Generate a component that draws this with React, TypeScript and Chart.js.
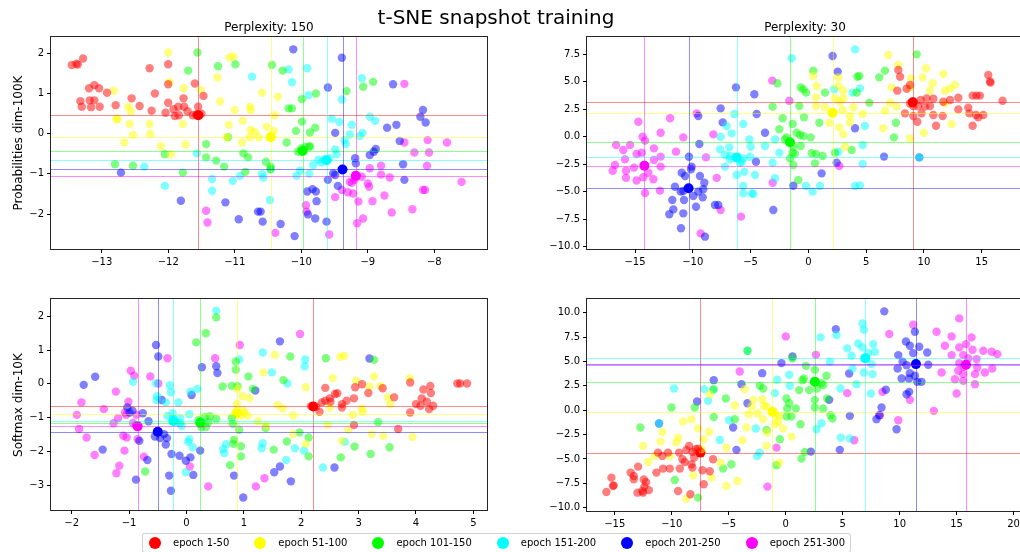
import React, { useEffect, useRef } from "react";
import { Chart, registerables } from "chart.js";

Chart.register(...registerables);

type Pt = [number, number];

// ---------- categories / legend ----------
const epochLabels = ["epoch 1-50", "epoch 51-100", "epoch 101-150", "epoch 151-200", "epoch 201-250", "epoch 251-300"];
const epochColors = ["255,0,0", "255,255,0", "0,255,0", "0,255,255", "0,0,255", "255,0,255"];

// ---------- Perplexity 150, Probabilities dim-100K ----------
const p150probRed: Pt[] = [[-13.45,1.71],[-13.38,1.74],[-13.36,1.72],[-13.28,1.87],[-13.19,1.13],[-13.11,1.21],[-13.04,1.13],[-12.92,1.02],[-13.32,0.81],[-13.18,0.83],[-13.11,0.83],[-13.3,0.67],[-13.16,0.66],[-13.03,0.67],[-12.79,0.71],[-12.55,0.88],[-12.43,0.69],[-12.28,1.63],[-12.2,1.0],[-12.25,0.57],[-12.04,0.52],[-12.0,1.23],[-12.0,1.73],[-12.0,0.77],[-11.92,0.61],[-11.9,0.44],[-11.84,0.46],[-11.77,0.88],[-11.76,0.67],[-11.85,0.67],[-11.71,0.56],[-11.6,1.25],[-11.47,0.94],[-11.55,0.67],[-11.63,0.46],[-11.53,0.46],[-11.5,0.5],[-11.58,0.48]];
const p150probYellow: Pt[] = [[-12.0,2.02],[-11.98,1.29],[-12.82,1.07],[-12.78,0.36],[-12.76,0.37],[-12.6,0.67],[-12.56,0.55],[-12.58,0.24],[-12.53,-0.03],[-12.66,-0.22],[-12.28,0.24],[-12.27,0.0],[-12.11,-0.31],[-11.96,-0.51],[-11.77,1.13],[-11.78,0.24],[-11.74,-0.27],[-11.51,1.09],[-11.26,1.4],[-11.22,0.8],[-11.08,1.9],[-11.02,1.92],[-11.0,0.59],[-11.09,0.22],[-11.12,-0.09],[-10.88,0.32],[-10.89,-0.22],[-10.77,0.67],[-10.76,0.59],[-10.76,0.09],[-10.7,0.05],[-10.77,-0.09],[-10.64,-0.09],[-10.59,1.02],[-10.52,0.17],[-10.41,0.07],[-10.46,-0.05],[-10.35,0.92],[-10.4,0.46]];
const p150probGreen: Pt[] = [[-11.56,2.02],[-11.7,1.57],[-11.25,1.68],[-10.99,1.73],[-10.44,1.71],[-10.28,1.57],[-10.19,0.63],[-10.14,0.63],[-9.99,0.86],[-9.78,1.0],[-9.32,1.06],[-9.07,1.17],[-8.92,1.29],[-9.99,0.3],[-9.79,0.15],[-9.87,0.03],[-10.08,0.07],[-10.22,-0.22],[-10.05,-0.45],[-10.0,-0.37],[-9.94,-0.33],[-9.88,-0.33],[-9.87,-0.31],[-11.1,-0.09],[-11.43,-0.26],[-11.43,-0.59],[-11.28,-0.67],[-11.16,-0.82],[-10.87,-0.49],[-10.8,-0.59],[-10.84,-0.95],[-10.53,-0.7],[-10.46,-0.82],[-10.46,-0.88],[-11.78,-0.97],[-12.05,-0.51],[-12.8,-0.76],[-12.53,-0.8]];
const p150probCyan: Pt[] = [[-12.36,-0.82],[-12.05,-1.3],[-11.57,-0.49],[-11.34,-1.13],[-11.34,-1.42],[-11.03,-1.17],[-10.92,-1.05],[-10.74,1.42],[-10.59,-1.01],[-10.57,-1.09],[-10.47,-1.65],[-10.46,-0.89],[-10.19,1.6],[-10.14,1.28],[-9.91,1.63],[-9.89,0.96],[-10.07,-1.05],[-10.02,-0.92],[-9.88,-1.0],[-9.82,-0.78],[-9.74,-0.65],[-9.7,-0.72],[-9.65,-0.64],[-9.58,-0.61],[-9.54,0.37],[-9.49,-0.39],[-9.47,-0.51],[-9.43,0.29],[-9.39,0.85],[-9.27,-0.02],[-9.24,0.22],[-9.35,-0.16],[-9.33,-0.26],[-9.12,-0.06],[-9.08,0.02],[-9.09,1.38],[-8.97,0.42],[-8.89,0.32]];
const p150probBlue: Pt[] = [[-10.12,2.1],[-9.39,1.89],[-9.6,1.15],[-8.62,1.23],[-8.17,0.59],[-8.21,0.42],[-8.13,0.28],[-8.71,0.15],[-8.57,0.22],[-9.49,0.02],[-8.52,-0.18],[-8.97,-0.53],[-8.91,-0.45],[-8.88,-0.38],[-8.47,-0.76],[-8.45,-1.15],[-9.19,-0.61],[-9.18,-0.74],[-9.52,-0.99],[-9.49,-1.03],[-9.6,-1.15],[-9.45,-1.3],[-9.91,-1.44],[-9.83,-1.38],[-9.78,-1.44],[-9.77,-1.68],[-9.9,-2.01],[-9.79,-2.11],[-9.62,-2.19],[-10.1,-2.55],[-10.31,-2.25],[-10.58,-2.19],[-10.65,-1.94],[-10.61,-1.94],[-10.94,-2.13],[-11.14,-1.71],[-11.81,-1.67],[-12.71,-0.97]];
const p150probMagenta: Pt[] = [[-8.45,1.24],[-8.1,-0.16],[-7.81,-0.22],[-8.45,-0.22],[-8.3,-0.47],[-8.08,-0.47],[-8.11,-0.8],[-7.59,-1.2],[-8.17,-1.4],[-8.14,-1.4],[-8.33,-1.88],[-8.64,-1.96],[-8.75,-1.54],[-8.67,-1.09],[-8.8,-1.02],[-8.8,-0.8],[-8.97,-0.86],[-9.0,-1.24],[-8.98,-1.32],[-8.93,-1.68],[-9.14,-1.69],[-9.07,-2.11],[-9.16,-2.23],[-9.09,-1.07],[-9.27,-1.2],[-9.24,-1.22],[-9.2,-1.15],[-9.3,-1.46],[-9.22,-1.49],[-9.39,-1.4],[-9.49,-1.58],[-9.93,-1.78],[-9.92,-1.94],[-9.58,-2.51],[-10.39,-2.47],[-11.43,-1.92],[-11.41,-2.21]];
const p150probCenters: Pt[] = [[-11.55,0.46],[-10.46,-0.09],[-9.98,-0.43],[-9.62,-0.66],[-9.38,-0.89],[-9.18,-1.05]];

// ---------- Perplexity 30, Probabilities dim-100K ----------
const p30probRed: Pt[] = [[7.79,6.05],[7.94,5.44],[7.7,4.17],[8.51,4.35],[8.8,4.68],[8.36,2.11],[9.08,1.87],[9.43,1.35],[9.08,2.78],[9.5,2.75],[9.8,2.11],[9.72,3.32],[10.09,2.72],[10.24,3.47],[10.53,2.78],[10.82,3.44],[11.05,0.99],[10.82,1.96],[11.68,3.17],[11.62,1.87],[12.26,3.32],[12.98,3.53],[12.98,2.47],[13.84,2.63],[13.93,2.11],[14.22,3.72],[14.56,3.72],[14.85,3.72],[14.22,0.99],[14.71,1.75],[15.14,1.96],[14.51,1.96],[15.57,5.59],[15.77,4.9],[15.72,5.0],[16.81,3.26],[8.8,3.0],[9.1,3.2]];
const p30probYellow: Pt[] = [[6.92,7.41],[7.79,6.5],[10.18,6.2],[11.68,5.68],[9.89,5.38],[10.76,4.84],[8.88,5.29],[7.21,4.47],[8.8,4.47],[10.53,4.17],[11.82,4.17],[12.26,4.38],[12.69,4.68],[11.82,3.02],[12.4,1.14],[7.07,3.08],[7.64,2.72],[6.63,2.35],[6.49,0.75],[8.8,-0.16],[10.0,0.35],[0.43,5.5],[0.72,4.59],[0.66,3.56],[0.66,2.78],[1.44,2.66],[2.02,2.11],[1.82,1.26],[2.59,4.59],[2.59,5.38],[2.31,3.47],[2.74,3.17],[2.97,2.41],[3.03,3.47],[2.68,0.84],[3.03,0.2],[3.17,-0.92],[3.6,1.87],[3.6,1.26],[3.89,2.66],[4.7,2.05],[3.03,4.17]];
const p30probGreen: Pt[] = [[9.37,7.47],[6.63,5.99],[6.14,5.38],[4.41,5.5],[4.24,5.44],[4.18,3.99],[5.28,3.08],[0.43,5.99],[-0.66,4.47],[-0.43,4.29],[-0.2,3.99],[1.44,3.99],[-2.68,4.84],[-3.09,2.72],[-2.22,1.66],[-2.51,0.66],[-1.36,1.14],[-1.01,0.35],[-0.72,0.14],[-2.02,-0.25],[-1.88,-0.07],[-0.78,2.78],[-0.38,1.75],[-0.43,0.05],[0.2,-0.07],[0.95,1.26],[-1.3,-0.92],[-1.36,-1.46],[-1.16,-1.58],[-0.66,-0.86],[-1.59,-1.98],[-1.3,-2.58],[-0.87,-3.94],[0.29,-1.52],[0.66,-1.58],[1.24,-1.76],[0.58,-2.43],[2.31,-1.46],[3.75,-1.22],[7.41,-0.07],[7.58,1.26]];
const p30probCyan: Pt[] = [[4.04,7.92],[-1.44,7.11],[2.25,4.29],[4.47,4.38],[3.83,3.99],[4.9,0.96],[4.7,-0.77],[4.7,-2.49],[2.59,-1.37],[4.04,-4.49],[4.47,-4.43],[0.37,-5.0],[-0.2,-4.49],[1.01,-4.49],[-2.89,-0.25],[-2.51,-1.46],[-3.09,-2.37],[-2.89,-3.79],[-3.75,-0.86],[-4.62,-3.49],[-4.9,-5.16],[-4.76,-5.22],[-5.63,-4.49],[-5.63,-5.16],[-5.54,-3.19],[-5.77,-2.28],[-5.63,-1.98],[-4.99,-0.92],[-5.05,-1.83],[-5.11,-0.25],[-5.63,1.14],[-6.4,2.05],[-6.64,0.29],[-7.07,0.96],[-7.59,-0.01],[-7.64,-1.16],[-7.21,-1.67],[-6.78,-1.76],[-6.84,-0.98],[-7.21,-2.73],[-6.78,-2.07],[-6.2,-3.49],[-5.91,-2.37],[9.6,-1.89]];
const p30probBlue: Pt[] = [[2.1,7.32],[2.54,5.9],[4.04,0.75],[6.55,-1.82],[9.6,-1.89],[2.45,-2.37],[1.15,-3.34],[-1.3,-4.46],[-3.03,-6.67],[-4.53,-2.28],[-3.75,0.35],[-4.47,2.05],[-4.67,3.84],[-6.26,4.47],[-7.59,2.56],[-7.41,1.29],[-9.52,1.87],[-9.43,-0.67],[-10.33,-1.83],[-10.1,-2.73],[-10.15,-2.97],[-10.96,-3.28],[-10.67,-3.58],[-9.38,-3.58],[-9.0,-4.19],[-9.09,-4.79],[-9.52,-5.0],[-11.54,-4.55],[-11.05,-5.0],[-10.82,-4.94],[-10.76,-5.76],[-11.77,-5.76],[-9.95,-5.4],[-9.14,-5.52],[-11.68,-6.61],[-12.03,-7.06],[-10.82,-6.97],[-9.72,-6.37],[-11.02,-8.33],[-8.94,-9.09],[-8.08,-6.21],[-7.79,-6.21]];
const p30probMagenta: Pt[] = [[-14.71,1.35],[-11.97,1.66],[-9.66,2.11],[-14.34,-0.01],[-14.13,-0.37],[-12.78,0.35],[-10.82,-0.07],[-8.22,0.2],[-16.64,-0.77],[-16.01,-1.22],[-15.43,-0.77],[-14.86,-1.58],[-14.42,-1.46],[-15.87,-2.07],[-16.73,-2.58],[-16.93,-3.1],[-15.78,-3.1],[-15.09,-2.82],[-15.78,-3.75],[-14.86,-3.99],[-14.28,-3.69],[-14.13,-5.13],[-13.85,-3.28],[-13.41,-3.88],[-13.36,-2.13],[-13.36,-1.07],[-12.78,-1.82],[-12.78,-2.73],[-12.84,-4.91],[-11.45,-1.37],[-8.86,-1.89],[-7.93,-3.75],[-7.59,-6.67],[-5.83,-7.27],[-9.32,-8.79],[-3.09,-4.19],[-3.12,5.08],[-1.64,3.26],[2.68,-2.67]];
const p30probCenters: Pt[] = [[9.03,3.11],[2.1,2.17],[-1.59,-0.52],[-6.2,-1.89],[-10.36,-4.7],[-14.19,-2.64]];

// ---------- Perplexity 150, Softmax dim-10K ----------
const p150softRed: Pt[] = [[4.72,0.01],[4.77,0.01],[4.89,0.01],[2.42,-0.12],[2.32,-0.83],[2.36,-0.55],[2.42,-0.5],[2.5,-0.43],[2.51,-0.53],[2.59,-0.3],[2.63,-0.28],[2.71,-0.6],[2.71,-0.7],[2.79,-0.5],[2.92,-0.43],[2.94,-0.1],[3.06,-0.01],[3.17,-0.27],[3.42,-0.13],[3.62,-0.4],[2.92,-1.22],[3.69,-1.34],[3.9,0.04],[3.9,-0.85],[4.0,-0.6],[4.08,-0.65],[4.1,-0.43],[4.13,-0.17],[4.19,-0.53],[4.25,-0.06],[4.26,-0.27],[4.3,-0.65],[4.23,-0.75],[2.26,-0.68],[2.17,-0.66]];
const p150softYellow: Pt[] = [[1.54,0.86],[2.68,0.8],[2.75,0.83],[2.55,0.17],[2.96,0.09],[3.19,-0.08],[3.27,0.22],[3.38,-0.06],[3.51,-0.4],[3.55,-0.6],[3.89,0.17],[3.06,-0.73],[3.07,-0.83],[2.9,-0.92],[2.5,-0.7],[2.46,-1.22],[2.82,-1.37],[3.23,-1.49],[3.43,-1.54],[3.94,-1.57],[2.71,-1.69],[2.08,-1.78],[1.86,-1.49],[1.34,0.34],[2.08,-0.1],[1.68,-0.73],[1.59,-0.63],[1.25,-1.11],[1.39,-1.24],[0.98,-0.37],[1.1,-0.42],[0.89,-0.15],[1.0,-0.85],[1.07,-0.95],[0.96,-0.95],[1.0,-0.8],[0.88,-0.6],[0.89,-0.8],[0.85,-0.85],[1.86,-0.94]];
const p150softGreen: Pt[] = [[0.52,1.97],[0.34,1.5],[0.17,1.23],[0.86,0.66],[0.86,0.42],[1.08,0.22],[0.63,-0.08],[0.79,-0.06],[0.89,-0.07],[1.16,-0.15],[1.69,0.11],[1.81,0.81],[2.43,0.76],[3.27,0.71],[3.34,-1.14],[3.54,-1.88],[3.21,-2.08],[2.93,-1.86],[2.69,-2.18],[2.13,-1.59],[2.13,-2.15],[1.97,-1.44],[1.75,-1.71],[1.52,-1.95],[1.38,-1.31],[0.92,-1.36],[0.95,-1.85],[0.95,-2.15],[0.83,-1.66],[0.82,-1.78],[0.76,-2.41],[0.79,-1.02],[0.81,-1.19],[0.52,-1.04],[0.41,-0.96],[0.32,-0.99],[0.38,-1.14],[0.21,-1.08],[0.26,-1.28],[0.34,-1.28],[-0.72,-2.6]];
const p150softCyan: Pt[] = [[0.52,2.17],[0.92,0.72],[1.33,0.93],[1.49,0.34],[1.76,0.01],[2.07,0.72],[2.06,0.52],[-0.93,0.06],[-0.53,0.02],[-0.29,-0.04],[-0.27,-0.25],[-0.51,-0.37],[-0.52,-0.48],[-0.36,-0.55],[-0.14,-0.55],[0.07,-0.23],[0.19,-0.15],[-0.33,-0.95],[-0.24,-0.87],[-0.23,-1.02],[-0.18,-1.14],[-0.11,-1.17],[-0.08,-1.25],[0.05,-0.9],[-0.11,-1.02],[0.05,-1.64],[0.03,-1.72],[0.11,-1.88],[-0.01,-2.62],[0.64,-1.93],[0.66,-2.05],[0.69,-1.79],[1.31,-1.91],[1.33,-1.76],[1.89,-1.91],[1.74,-2.26],[2.05,-1.98],[2.38,-2.48],[2.76,-1.72]];
const p150softBlue: Pt[] = [[-1.79,-0.03],[-1.59,0.21],[-1.46,-1.95],[-0.88,-2.84],[-0.99,-0.85],[-0.94,-0.8],[-1.03,-0.7],[-0.76,-0.87],[-0.66,-1.11],[-0.82,-1.69],[-0.68,-2.26],[-0.53,1.15],[-0.49,0.81],[-0.43,-0.48],[-0.55,-1.56],[-0.46,-1.61],[-0.34,-1.61],[-0.36,-1.8],[-0.39,-1.49],[-0.26,-2.08],[-0.3,-2.72],[-0.27,-3.17],[-0.12,-2.13],[-0.01,-2.28],[0.07,-2.18],[0.12,-2.7],[0.09,-0.33],[0.27,0.49],[0.24,-1.98],[0.52,0.52],[0.54,0.32],[1.2,-0.2],[0.83,-2.72],[0.99,-3.37],[1.53,-2.62],[1.63,-2.45],[1.63,1.26],[1.82,-2.89],[2.58,-2.48],[3.19,0.75]];
const p150softMagenta: Pt[] = [[-1.91,-0.92],[-1.87,-1.34],[-1.83,-0.55],[-1.74,-1.59],[-1.6,-2.11],[-1.44,-0.75],[-1.27,-1.17],[-1.23,-0.23],[-1.19,-1.02],[-1.17,-2.43],[-1.22,-2.65],[-1.08,-1.98],[-1.1,-1.54],[-1.04,-1.59],[-1.07,-0.85],[-1.05,-0.92],[-1.01,-0.53],[-0.97,0.39],[-0.91,0.24],[-0.93,-1.16],[-0.88,-1.22],[-0.87,-0.92],[-0.85,-1.64],[-0.74,-2.16],[-0.63,0.22],[-0.49,0.01],[-0.33,0.76],[0.5,0.76],[0.93,1.15],[0.06,-2.45],[0.38,-3.04],[1.21,-3.04],[1.36,-2.8],[1.98,1.48]];
const p150softCenters: Pt[] = [[2.21,-0.67],[0.88,-0.88],[0.24,-1.15],[-0.23,-1.1],[-0.5,-1.42],[-0.85,-1.26]];

// ---------- Perplexity 30, Softmax dim-10K ----------
const p30softRed: Pt[] = [[-15.73,-8.39],[-15.29,-6.92],[-15.15,-7.77],[-15.09,-7.71],[-13.6,-6.4],[-13.33,-7.09],[-13.33,-6.75],[-13.0,-8.46],[-12.57,-8.29],[-12.51,-8.46],[-12.95,-5.79],[-12.45,-7.1],[-12.25,-7.4],[-12.4,-7.85],[-12.0,-8.2],[-11.34,-6.4],[-10.76,-5.99],[-10.17,-5.99],[-11.2,-4.35],[-10.82,-4.69],[-10.32,-4.35],[-9.44,-8.29],[-9.35,-4.35],[-9.29,-5.99],[-9.06,-5.03],[-8.86,-5.31],[-8.71,-4.07],[-8.47,-3.66],[-8.18,-4.28],[-8.27,-5.55],[-8.18,-5.89],[-8.03,-4.86],[-8.36,-8.63],[-7.89,-4.01],[-7.68,-3.94],[-7.3,-6.16],[-7.19,-7.6],[-6.37,-5.03],[-6.66,-6.27]];
const p30softYellow: Pt[] = [[-12.51,-3.66],[-12.07,-5.31],[-11.49,-4.69],[-10.99,-3.22],[-10.82,-2.23],[-10.17,-4.69],[-9.44,-2.81],[-9.59,-3.32],[-9.0,-1.16],[-8.27,-0.92],[-7.68,-1.88],[-7.39,-4.01],[-8.12,-6.68],[-7.24,-2.98],[-6.72,-2.23],[-8.71,-9.08],[-6.51,-6.92],[-5.72,-5.38],[-5.2,-3.84],[-5.2,-7.77],[-4.23,-7.26],[-6.66,1.64],[-4.46,0.51],[-3.59,2.16],[-3.79,-3.08],[-3.44,-1.78],[-3.23,-0.41],[-3.0,0.38],[-2.85,1.06],[-2.47,-0.31],[-2.04,1.13],[-1.92,0.45],[-1.68,0.38],[-1.98,-0.92],[-1.68,-3.66],[-1.63,-2.29],[-0.95,-1.44],[-0.66,-1.2],[-0.81,-0.58],[-0.57,-0.58],[-0.22,-1.88],[0.51,-2.71],[-0.57,-5.38]];
const p30softGreen: Pt[] = [[-12.75,-1.78],[-10.02,0.27],[-9.73,-7.16],[-7.98,0.27],[-7.68,-8.97],[-6.31,-0.69],[-6.31,2.16],[-5.25,1.2],[-5.49,-5.99],[-4.76,-5.55],[-4.46,-0.92],[-3.35,6.1],[-2.27,2.5],[-1.98,2.23],[-1.68,-2.02],[-0.81,-5.65],[-0.51,-2.98],[0.07,1.2],[0.31,0.72],[0.13,0.17],[0.07,-0.65],[0.89,0.17],[0.51,-0.65],[0.6,5.31],[1.3,-1.44],[1.18,2.06],[1.48,3.08],[1.59,3.25],[1.77,4.55],[2.06,2.06],[1.39,-4.97],[1.68,-4.28],[2.56,4.14],[2.56,1.06],[2.56,0.27],[2.76,2.23],[3.14,2.77],[3.29,2.57],[3.58,3.53],[3.29,0.17],[3.64,1.2],[3.94,-0.51],[4.11,-0.86]];
const p30softCyan: Pt[] = [[-9.79,2.23],[-7.16,2.16],[-6.37,2.06],[-6.81,0.96],[-5.78,-3.05],[-4.96,-1.03],[-2.62,-1.88],[-2.5,-4.69],[-2.27,-4.35],[-0.95,1.75],[-0.75,3.12],[0.31,3.63],[0.36,2.5],[2.71,-1.95],[3.14,-1.34],[3.06,7.47],[4.46,7.71],[3.88,4.97],[4.81,2.23],[4.84,-2.81],[5.63,-2.91],[5.4,6.34],[5.78,5.58],[5.87,4.28],[6.22,2.67],[6.36,6.85],[6.74,8.9],[6.86,8.25],[6.74,6.44],[6.86,3.87],[7.24,5.86],[7.68,6.78],[7.83,6.0],[7.53,4.73],[7.62,3.7],[7.48,1.71],[-11.11,-1.37],[-3.35,6.1]];
const p30softBlue: Pt[] = [[-11.11,-1.37],[-7.77,0.89],[-6.31,3.08],[-3.88,2.67],[-3.35,0.72],[-4.61,-1.78],[-4.32,-4.07],[-2.06,3.8],[-0.37,4.83],[0.6,5.51],[2.21,-4.25],[3.82,1.06],[4.4,8.32],[4.75,-4.07],[5.57,3.77],[5.63,-0.58],[7.97,-0.92],[8.21,-0.51],[8.41,0.27],[8.79,2.09],[8.65,10.14],[9.73,-1.95],[9.82,4.28],[9.88,5.65],[10.26,4.97],[10.61,4.62],[10.55,7.05],[10.9,6.61],[10.17,3.25],[10.82,3.25],[10.61,1.64],[10.84,1.88],[10.9,3.8],[11.19,5.86],[11.34,8.05],[11.34,3.53],[11.72,6.51],[11.54,2.91],[11.92,2.91],[12.42,5.92],[12.51,4.66]];
const p30softMagenta: Pt[] = [[-4.03,3.97],[0.01,7.57],[-1.6,-7.84],[-0.81,-3.84],[2.65,5.68],[6.01,-3.08],[5.4,1.75],[8.27,-0.51],[8.5,1.88],[9.88,-1.03],[10.9,1.06],[11.19,8.77],[9.09,7.81],[13.0,-0.07],[13.24,8.05],[13.68,3.87],[13.97,6.61],[14.56,7.57],[14.56,5.65],[14.85,3.18],[15.0,1.71],[15.23,9.42],[15.23,6.44],[15.23,4.83],[15.14,4.04],[15.58,5.65],[15.64,4.45],[15.58,3.7],[15.58,3.01],[15.82,6.78],[16.02,5.31],[16.31,7.47],[16.4,6.2],[16.61,3.7],[16.61,2.67],[16.75,5.24],[16.81,4.38],[17.34,6.1],[17.48,3.87],[18.07,6.0],[18.13,4.28],[18.57,5.75]];
const p30softCenters: Pt[] = [[-7.48,-4.35],[-1.16,-0.17],[2.56,2.91],[6.98,5.34],[11.43,4.73],[15.82,4.66]];

// ---------- tick values ----------
const p150probXTicks = [-13, -12, -11, -10, -9, -8];
const p150probYTicks = [-2, -1, 0, 1, 2];
const p30probXTicks = [-15, -10, -5, 0, 5, 10, 15];
const p30probYTicks = [-10, -7.5, -5, -2.5, 0, 2.5, 5, 7.5];
const p150softXTicks = [-2, -1, 0, 1, 2, 3, 4, 5];
const p150softYTicks = [-3, -2, -1, 0, 1, 2];
const p30softXTicks = [-15, -10, -5, 0, 5, 10, 15, 20];
const p30softYTicks = [-10, -7.5, -5, -2.5, 0, 2.5, 5, 7.5, 10];

// ---------- layout (pixels) ----------
const CANVAS_W = 1030;
const CANVAS_H = 552;
const Y_AXIS_W = 48;
const X_AXIS_H = 24;

interface PanelCfg {
  groups: Pt[][];
  centers: Pt[];
  xRange: [number, number];
  yRange: [number, number];
  xTicks: number[];
  yTicks: number[];
  yDecimals: number;
  box: { left: number; top: number; right: number; bottom: number };
}

const panels: PanelCfg[] = [
  {
    groups: [p150probRed, p150probYellow, p150probGreen, p150probCyan, p150probBlue, p150probMagenta],
    centers: p150probCenters,
    xRange: [-13.762, -7.208], yRange: [-2.871, 2.407],
    xTicks: p150probXTicks, yTicks: p150probYTicks, yDecimals: 0,
    box: { left: 51, top: 37, right: 487, bottom: 249 },
  },
  {
    groups: [p30probRed, p30probYellow, p30probGreen, p30probCyan, p30probBlue, p30probMagenta],
    centers: p30probCenters,
    xRange: [-19.154, 18.577], yRange: [-10.21, 9.044],
    xTicks: p30probXTicks, yTicks: p30probYTicks, yDecimals: 1,
    box: { left: 587, top: 37, right: 1023, bottom: 249 },
  },
  {
    groups: [p150softRed, p150softYellow, p150softGreen, p150softCyan, p150softBlue, p150softMagenta],
    centers: p150softCenters,
    xRange: [-2.36, 5.238], yRange: [-3.74, 2.515],
    xTicks: p150softXTicks, yTicks: p150softYTicks, yDecimals: 0,
    box: { left: 51, top: 299, right: 487, bottom: 510 },
  },
  {
    groups: [p30softRed, p30softYellow, p30softGreen, p30softCyan, p30softBlue, p30softMagenta],
    centers: p30softCenters,
    xRange: [-17.432, 20.824], yRange: [-10.342, 11.408],
    xTicks: p30softXTicks, yTicks: p30softYTicks, yDecimals: 1,
    box: { left: 587, top: 299, right: 1023, bottom: 511 },
  },
];

const fmt = (v: number, d: number) => {
  const s = v.toFixed(d);
  return s.replace("-", "\u2212");
};

function Panel({ cfg }: { cfg: PanelCfg }) {
  const ref = useRef<HTMLCanvasElement>(null);
  useEffect(() => {
    if (!ref.current) return;
    const datasets: any[] = [];
    cfg.groups.forEach((g, i) => {
      datasets.push({
        data: g.map(([x, y]) => ({ x, y })),
        backgroundColor: `rgba(${epochColors[i]},0.5)`,
        borderWidth: 0,
        pointRadius: 4.2,
        pointHoverRadius: 4.2,
      });
    });
    cfg.centers.forEach(([x, y], i) => {
      datasets.push({
        data: [{ x, y }],
        backgroundColor: `rgba(${epochColors[i]},1)`,
        borderWidth: 0,
        pointRadius: 5,
        pointHoverRadius: 5,
      });
    });

    const crosshair = {
      id: "crosshair",
      afterDatasetsDraw(chart: any) {
        const { ctx, chartArea, scales } = chart;
        const { left, right, top, bottom } = chartArea;
        ctx.save();
        ctx.beginPath();
        ctx.rect(left, top, right - left, bottom - top);
        ctx.clip();
        ctx.lineWidth = 1;
        cfg.centers.forEach(([cx, cy], i) => {
          ctx.strokeStyle = `rgba(${epochColors[i]},0.45)`;
          const px = Math.round(scales.x.getPixelForValue(cx)) + 0.5;
          const py = Math.round(scales.y.getPixelForValue(cy)) + 0.5;
          ctx.beginPath();
          ctx.moveTo(px, top);
          ctx.lineTo(px, bottom);
          ctx.stroke();
          ctx.beginPath();
          ctx.moveTo(left, py);
          ctx.lineTo(right, py);
          ctx.stroke();
        });
        ctx.restore();
      },
      afterDraw(chart: any) {
        const { ctx, chartArea } = chart;
        const { left, right, top, bottom } = chartArea;
        ctx.save();
        ctx.strokeStyle = "rgba(0,0,0,0.85)";
        ctx.lineWidth = 1;
        ctx.strokeRect(Math.round(left) - 0.5, Math.round(top) - 0.5, Math.round(right - left) + 1, Math.round(bottom - top) + 1);
        ctx.restore();
      },
    };

    const b = cfg.box;
    const axisCommon = {
      type: "linear" as const,
      grid: { drawOnChartArea: false, drawTicks: true, tickLength: 4, color: "#000", lineWidth: 1 },
      border: { display: false },
    };

    const chart = new Chart(ref.current, {
      type: "scatter",
      data: { datasets },
      plugins: [crosshair],
      options: {
        responsive: false,
        animation: false,
        events: [],
        layout: {
          padding: {
            left: b.left - Y_AXIS_W,
            top: b.top,
            right: CANVAS_W - b.right,
            bottom: CANVAS_H - b.bottom - X_AXIS_H,
          },
        },
        plugins: { legend: { display: false }, tooltip: { enabled: false }, title: { display: false } },
        scales: {
          x: {
            ...axisCommon,
            min: cfg.xRange[0],
            max: cfg.xRange[1],
            afterBuildTicks: (s: any) => { s.ticks = cfg.xTicks.map((v) => ({ value: v })); },
            afterFit: (s: any) => { s.height = X_AXIS_H; },
            ticks: { color: "#000", padding: 3, font: { size: 10 }, maxRotation: 0, autoSkip: false, callback: (v: any) => fmt(Number(v), 0) },
          },
          y: {
            ...axisCommon,
            min: cfg.yRange[0],
            max: cfg.yRange[1],
            afterBuildTicks: (s: any) => { s.ticks = cfg.yTicks.map((v) => ({ value: v })); },
            afterFit: (s: any) => { s.width = Y_AXIS_W; },
            ticks: { color: "#000", padding: 3, font: { size: 10 }, autoSkip: false, callback: (v: any) => fmt(Number(v), cfg.yDecimals) },
          },
        },
      } as any,
    });
    return () => chart.destroy();
  }, [cfg]);
  return (
    <canvas
      ref={ref}
      width={CANVAS_W}
      height={CANVAS_H}
      style={{ position: "absolute", left: 0, top: 0, width: CANVAS_W, height: CANVAS_H }}
    />
  );
}

Chart.defaults.font.family = "'DejaVu Sans', sans-serif";
Chart.defaults.font.size = 10;
Chart.defaults.color = "#000";

export default function App() {
  const font = "'DejaVu Sans', sans-serif";
  return (
    <div
      style={{
        position: "fixed",
        left: 0,
        top: 0,
        width: 1020,
        height: 552,
        overflow: "hidden",
        background: "#fff",
        fontFamily: font,
        color: "#000",
      }}
    >
      {panels.map((p, i) => (
        <Panel key={i} cfg={p} />
      ))}
      <div style={{ position: "absolute", left: 496, top: 5, transform: "translateX(-50%)", fontSize: 20, lineHeight: "24px", whiteSpace: "nowrap" }}>
        t-SNE snapshot training
      </div>
      <div style={{ position: "absolute", left: 269, top: 19.5, transform: "translateX(-50%)", fontSize: 12, lineHeight: "14px", whiteSpace: "nowrap" }}>
        Perplexity: 150
      </div>
      <div style={{ position: "absolute", left: 805, top: 19.5, transform: "translateX(-50%)", fontSize: 12, lineHeight: "14px", whiteSpace: "nowrap" }}>
        Perplexity: 30
      </div>
      <div style={{ position: "absolute", left: 18, top: 143, transform: "translate(-50%,-50%) rotate(-90deg)", fontSize: 12, lineHeight: "14px", whiteSpace: "nowrap" }}>
        Probabilities dim-100K
      </div>
      <div style={{ position: "absolute", left: 18, top: 405, transform: "translate(-50%,-50%) rotate(-90deg)", fontSize: 12, lineHeight: "14px", whiteSpace: "nowrap" }}>
        Softmax dim-10K
      </div>
      <div
        style={{
          position: "absolute",
          left: 142,
          top: 533,
          height: 20,
          boxSizing: "border-box",
          border: "1px solid rgba(0,0,0,0.18)",
          borderRadius: 3,
          display: "flex",
          alignItems: "center",
          paddingLeft: 6,
          paddingRight: 5,
          gap: 25,
          background: "#fff",
          fontSize: 10,
        }}
      >
        {epochLabels.map((lab, i) => (
          <div key={lab} style={{ display: "flex", alignItems: "center" }}>
            <span
              style={{
                display: "inline-block",
                width: 12,
                height: 12,
                borderRadius: 6,
                background: `rgb(${epochColors[i]})`,
                marginRight: 12,
              }}
            />
            <span style={{ whiteSpace: "nowrap", lineHeight: "12px" }}>{lab}</span>
          </div>
        ))}
      </div>
    </div>
  );
}
